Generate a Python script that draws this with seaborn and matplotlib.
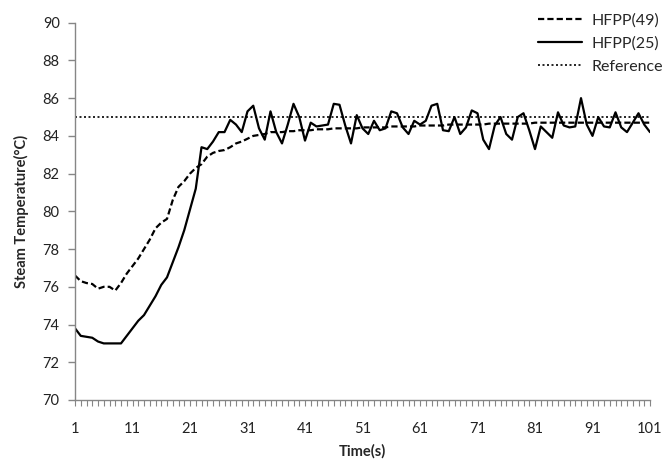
import numpy as np
import pandas as pd
import seaborn as sns
import matplotlib
matplotlib.use("Agg")
import matplotlib.pyplot as plt
from matplotlib.ticker import MultipleLocator, FixedLocator

time_s = list(range(1, 102))

hfpp49 = [
    76.6, 76.3, 76.2, 76.15, 75.9, 76.0, 76.0, 75.8, 76.2, 76.7,
    77.1, 77.5, 78.0, 78.5, 79.1, 79.4, 79.6, 80.6, 81.3, 81.6,
    82.0, 82.3, 82.5, 82.9, 83.1, 83.2, 83.25, 83.4, 83.6, 83.7,
    83.85, 84.0, 84.05, 84.1, 84.2, 84.2, 84.2, 84.25, 84.25, 84.3,
    84.3, 84.3, 84.35, 84.35, 84.35, 84.4, 84.4, 84.4, 84.4, 84.4,
    84.45, 84.45, 84.45, 84.45, 84.45, 84.5, 84.5, 84.5, 84.5, 84.5,
    84.55, 84.55, 84.55, 84.55, 84.55, 84.6, 84.6, 84.6, 84.6, 84.6,
    84.6, 84.6, 84.65, 84.65, 84.65, 84.65, 84.65, 84.65, 84.65, 84.65,
    84.7, 84.7, 84.7, 84.7, 84.7, 84.7, 84.7, 84.7, 84.7, 84.7,
    84.7, 84.7, 84.7, 84.7, 84.7, 84.7, 84.7, 84.7, 84.7, 84.7,
    84.7,
]

hfpp25 = [
    73.8, 73.4, 73.35, 73.3, 73.1, 73.0, 73.0, 73.0, 73.0, 73.4,
    73.8, 74.2, 74.5, 75.0, 75.5, 76.1, 76.5, 77.3, 78.1, 79.0,
    80.1, 81.2, 83.4, 83.3, 83.7, 84.2, 84.2, 84.85, 84.6, 84.2,
    85.3, 85.6, 84.4, 83.8, 85.3, 84.2, 83.6, 84.6, 85.7, 85.0,
    83.75, 84.7, 84.5, 84.55, 84.6, 85.7, 85.65, 84.55, 83.6, 85.1,
    84.4, 84.1, 84.8, 84.3, 84.4, 85.3, 85.2, 84.45, 84.1, 84.8,
    84.6, 84.8, 85.6, 85.7, 84.3, 84.25, 85.0, 84.1, 84.45, 85.35,
    85.2, 83.8, 83.3, 84.55, 85.0, 84.1, 83.8, 85.0, 85.2, 84.3,
    83.3, 84.5, 84.2, 83.9, 85.25, 84.55, 84.45, 84.5, 86.0, 84.6,
    84.0, 85.0, 84.5, 84.45, 85.25, 84.45, 84.2, 84.7, 85.2, 84.6,
    84.2,
]

reference = 85.0
labels = ["HFPP(49)", "HFPP(25)", "Reference"]

sns.set_style("white")
plt.rcParams["font.family"] = ["Lato", "DejaVu Sans"]

fig = plt.figure(figsize=(6.64, 4.61), dpi=100)
ax = fig.add_axes([75 / 664, 1 - 400 / 461, (650 - 75) / 664, (400 - 22.7) / 461])

sns.lineplot(x=time_s, y=hfpp49, ax=ax, color="black", linewidth=1.6,
             linestyle=(0, (2.8, 1.4)), label=labels[0])
sns.lineplot(x=time_s, y=hfpp25, ax=ax, color="black", linewidth=1.6,
             linestyle="-", label=labels[1])
sns.lineplot(x=time_s, y=[reference] * len(time_s), ax=ax, color="black",
             linewidth=1.2, linestyle=(0, (1.2, 1.5)), label=labels[2])

ax.set_xlim(1, 101)
ax.set_ylim(70, 90)
ax.yaxis.set_major_locator(MultipleLocator(2))
ax.xaxis.set_major_locator(FixedLocator(list(range(1, 102, 10))))
ax.xaxis.set_minor_locator(FixedLocator(time_s))

for side in ["top", "right"]:
    ax.spines[side].set_visible(False)
for side in ["left", "bottom"]:
    ax.spines[side].set_color("#868686")
    ax.spines[side].set_linewidth(1.0)

ax.tick_params(axis="y", which="major", direction="out", length=5, width=1,
               color="#868686", labelsize=10.5, labelcolor="#222222", left=True, pad=6)
ax.tick_params(axis="x", which="both", direction="out", length=4, width=0.8,
               color="#868686", bottom=True)
ax.tick_params(axis="x", which="major", labelsize=10.5, labelcolor="#222222", pad=12)

ax.set_xlabel("Time(s)", fontsize=10.5, fontweight="bold", labelpad=6)
ax.set_ylabel("Steam Temperature(°C)", fontsize=10.5, fontweight="bold", labelpad=10)

ax.legend_.remove()
handles, lbls = ax.get_legend_handles_labels()
fig.legend(handles, lbls, loc="upper left", bbox_to_anchor=(532 / 664, 1 - 7 / 461),
           frameon=False, fontsize=11.5, handlelength=2.7, handletextpad=0.6,
           labelspacing=0.55, borderaxespad=0)

fig.savefig("out.png", dpi=100)
